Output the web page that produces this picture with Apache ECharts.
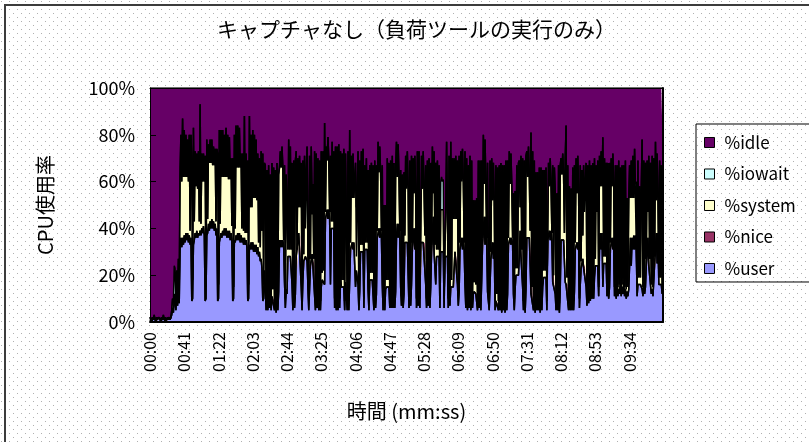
<!DOCTYPE html>
<html>
<head>
<meta charset="utf-8">
<script src="https://cdn.jsdelivr.net/npm/echarts@6/dist/echarts.min.js"></script>
<style>
html, body { margin: 0; padding: 0; background: #fff; }
#chart { width: 809px; height: 442px; }
</style>
</head>
<body>
<div id="chart"></div>
<script>
// Axis tick labels (elapsed time, one label every 41 s)
const timeTicks = ['00:00','00:41','01:22','02:03','02:44','03:25','04:06','04:47','05:28','06:09','06:50','07:31','08:12','08:53','09:34'];

// Per-second CPU breakdown (%), one row per 41 s
const user = [
1,1,0,1,1,2,1,0,1,1,1,2,1,0,1,1,2,1,1,0,1,1,1,2,1,1,3,6,4,10,9,5,12,7,18,8,34,36,32,36,33,
37,34,38,35,38,34,37,33,36,9,10,33,35,38,36,39,36,38,37,39,37,40,38,41,37,9,10,37,38,42,39,43,40,44,40,43,39,42,37,40,9,
10,34,36,38,36,39,37,40,37,40,36,39,36,39,35,38,35,9,10,35,34,37,35,38,35,38,34,37,34,36,33,36,33,35,32,9,10,33,31,34,31,
34,30,33,30,33,29,32,28,30,26,27,23,9,10,22,14,5,18,5,12,6,16,5,11,11,11,5,15,4,20,5,13,35,32,35,32,35,32,17,6,14,
12,28,28,28,28,28,16,5,19,6,12,28,28,28,38,38,38,15,5,18,26,26,28,28,26,26,5,14,24,24,29,24,24,24,5,17,6,13,5,19,5,
15,18,18,18,16,44,44,48,44,48,44,16,40,40,40,40,6,14,5,18,5,15,6,20,15,15,15,15,5,17,12,5,14,5,18,31,31,34,31,34,34,
15,22,22,16,5,13,30,30,30,30,6,31,31,31,31,14,5,18,18,18,18,18,5,15,6,12,36,36,40,36,40,36,16,5,12,5,14,15,15,15,15,
6,19,6,14,6,17,6,13,36,42,36,42,36,15,7,18,6,12,34,34,34,34,34,6,17,7,16,31,31,40,31,40,6,15,7,19,6,34,34,34,34,
34,34,16,6,14,7,18,6,15,30,30,45,30,30,16,28,28,28,28,6,30,30,30,30,6,28,28,28,28,6,17,7,15,15,15,15,15,30,30,30,16,
7,13,31,31,36,31,36,31,16,6,19,5,14,6,17,5,12,6,12,13,13,12,12,5,16,6,14,5,18,33,33,45,33,45,33,13,13,5,16,27,27,
34,27,34,5,9,9,9,5,15,5,13,4,17,5,14,4,18,5,12,33,33,36,33,36,33,12,5,14,20,20,20,20,28,39,28,28,15,5,19,4,14,
36,36,36,36,36,12,12,12,5,16,4,13,5,17,5,14,4,18,5,15,19,19,19,19,5,35,35,39,35,39,35,17,17,17,12,5,15,5,16,4,14,
35,35,35,35,35,17,16,16,16,5,13,5,14,5,16,5,13,31,31,34,31,34,6,16,23,23,27,23,23,23,15,7,18,8,14,9,17,10,16,10,19,
24,24,24,24,11,31,38,31,38,15,25,25,25,25,11,17,10,15,31,31,36,31,36,11,16,10,20,11,14,12,18,11,15,12,17,11,14,10,13,11,14,
24,36,24,36,31,37,31,37,31,11,16,16,16,16,16,14,11,17,12,15,24,24,36,24,24,16,12,14,11,18,25,25,38,25,38,16,16,16,16,12,15
];

const nice = [
0,0,0,0,0,0,0,0,0,0,0,0,0,0,0,0,0,0,0,0,0,0,0,0,0,0,0,0,0,0,0,0,0,0,0,0,0,0,0,0,0,
0,0,0,0,0,0,0,0,0,0,0,0,0,0,0,0,0,0,0,0,0,0,0,0,0,0,0,0,0,0,0,0,0,0,0,0,0,0,0,0,0,
0,0,0,0,0,0,0,0,0,0,0,0,0,0,0,0,0,0,0,0,0,0,0,0,0,0,0,0,0,0,0,0,0,0,0,0,0,0,0,0,0,
0,0,0,0,0,0,0,0,0,0,0,0,0,0,0,0,0,0,0,0,0,0,0,0,0,0,0,0,0,0,0,0,0,0,0,0,0,0,0,0,0,
0,0,0,0,0,0,0,0,0,0,0,0,0,0,0,0,0,0,0,0,0,0,0,0,0,0,0,0,0,0,0,0,0,0,0,0,0,0,0,0,0,
0,0,0,0,0,0,0,0,0,0,0,0,0,0,0,0,0,0,0,0,0,0,0,0,0,0,0,0,0,0,0,0,0,0,0,0,0,0,0,0,0,
0,0,0,0,0,0,0,0,0,0,0,0,0,0,0,0,0,0,0,0,0,0,0,0,0,0,0,0,0,0,0,0,0,0,0,0,0,0,0,0,0,
0,0,0,0,0,0,0,0,0,0,0,0,0,0,0,0,0,0,0,0,0,0,0,0,0,0,0,0,0,0,0,0,0,0,0,0,0,0,0,0,0,
0,0,0,0,0,0,0,0,0,0,0,0,0,0,0,0,0,0,0,0,0,0,0,0,0,0,0,0,0,0,0,0,0,0,0,0,0,0,0,0,0,
0,0,0,0,0,0,0,0,0,0,0,0,0,0,0,0,0,0,0,0,0,0,0,0,0,0,0,0,0,0,0,0,0,0,0,0,0,0,0,0,0,
0,0,0,0,0,0,0,0,0,0,0,0,0,0,0,0,0,0,0,0,0,0,0,0,0,0,0,0,0,0,0,0,0,0,0,0,0,0,0,0,0,
0,0,0,0,0,0,0,0,0,0,0,0,0,0,0,0,0,0,0,0,0,0,0,0,0,0,0,0,0,0,0,0,0,0,0,0,0,0,0,0,0,
0,0,0,0,0,0,0,0,0,0,0,0,0,0,0,0,0,0,0,0,0,0,0,0,0,0,0,0,0,0,0,0,0,0,0,0,0,0,0,0,0,
0,0,0,0,0,0,0,0,0,0,0,0,0,0,0,0,0,0,0,0,0,0,0,0,0,0,0,0,0,0,0,0,0,0,0,0,0,0,0,0,0,
0,0,0,0,0,0,0,0,0,0,0,0,0,0,0,0,0,0,0,0,0,0,0,0,0,0,0,0,0,0,0,0,0,0,0,0,0,0,0,0,0
];

const system = [
1,0,1,1,0,1,0,1,1,0,1,0,0,1,1,0,1,0,1,1,0,1,0,0,0,1,2,4,4,2,3,4,10,5,9,7,28,44,28,51,29,
45,28,42,27,40,26,43,6,44,60,8,50,8,35,22,33,21,35,6,54,5,32,22,31,23,62,5,41,6,34,29,35,28,34,27,32,28,32,6,34,63,
6,48,6,44,26,43,25,40,25,43,26,41,25,40,26,32,6,61,5,45,6,47,31,46,31,45,32,35,6,36,6,52,5,37,6,60,6,55,18,46,18,
48,23,47,23,45,23,40,6,40,6,46,16,63,6,46,53,4,47,4,55,4,47,4,57,3,55,4,50,4,48,4,50,31,41,31,43,31,3,50,4,49,
37,3,50,3,47,3,52,4,50,4,57,45,3,42,11,33,11,53,4,51,3,45,12,12,49,3,4,57,3,51,17,35,3,49,4,55,4,57,4,50,4,
58,3,55,4,69,3,31,21,35,21,3,55,3,37,3,33,4,61,4,57,4,61,4,53,3,57,3,59,4,55,35,4,59,4,64,3,40,19,41,19,19,
53,6,6,57,4,56,3,43,3,44,4,36,3,39,3,51,4,49,3,50,3,49,4,54,4,55,3,41,24,39,24,3,51,4,38,4,36,3,55,3,53,
4,50,4,57,4,51,4,52,41,20,40,20,3,50,4,45,4,52,3,37,23,39,23,4,52,4,55,3,39,15,40,15,4,58,4,54,4,3,37,23,39,
23,3,51,4,55,4,52,4,53,3,45,10,43,3,52,3,41,3,39,4,18,18,18,18,4,3,19,49,19,4,54,4,62,3,55,29,55,14,41,14,53,
4,58,3,42,24,43,24,3,57,4,51,4,53,4,54,4,57,4,40,4,39,4,41,4,53,4,55,4,51,3,47,14,45,14,3,55,3,4,53,3,43,
18,41,18,4,58,3,57,4,52,4,55,4,50,4,53,4,51,4,57,3,40,23,39,23,3,43,4,42,3,47,3,48,41,10,43,3,55,4,50,4,57,
37,26,39,26,3,69,3,61,4,53,4,51,4,47,4,52,4,48,4,50,3,46,3,47,4,3,33,19,35,19,3,50,3,49,44,4,40,4,51,4,53,
35,28,37,28,3,53,68,3,51,4,45,4,43,4,50,4,54,3,39,21,40,21,4,51,3,42,10,44,24,24,53,4,49,4,55,4,50,4,52,4,51,
3,43,23,45,4,40,20,42,20,64,3,45,3,43,4,51,4,53,3,39,22,41,22,4,51,4,47,4,55,4,48,4,52,4,50,4,55,4,40,4,38,
43,17,45,17,40,16,43,16,22,4,53,3,42,3,41,64,4,52,4,53,3,45,11,47,3,52,4,57,4,52,3,52,14,47,14,3,53,3,51,4,55
];

const iowait = [
0,0,0,0,0,0,0,0,0,0,0,0,0,0,0,0,0,0,0,0,0,0,0,0,0,0,0,0,0,12,11,0,0,0,0,0,4,0,0,0,0,
0,0,0,0,0,0,0,0,0,0,0,0,0,0,0,0,0,0,0,0,0,0,0,0,0,0,0,0,0,0,0,0,0,0,0,0,0,0,0,0,0,
0,0,0,0,0,0,0,0,0,0,0,0,0,0,0,0,0,0,0,0,0,0,0,0,0,0,0,0,0,0,0,0,0,0,0,0,0,0,0,0,0,
0,0,0,0,0,0,0,0,0,0,0,0,0,0,0,0,0,0,0,0,0,0,0,0,0,0,0,0,0,0,0,0,0,0,0,0,0,0,0,0,0,
0,0,0,0,0,0,0,0,0,0,0,0,0,0,0,0,0,0,0,0,0,0,18,22,0,0,0,0,0,0,9,0,0,0,0,0,0,0,0,0,0,
0,0,0,0,0,0,0,0,0,0,0,0,0,0,0,0,0,0,0,0,0,0,0,0,0,0,0,0,0,0,0,0,0,0,0,0,0,0,0,0,0,
0,21,22,0,0,0,0,0,0,0,0,0,0,0,0,0,0,0,0,0,0,0,0,0,0,0,0,0,0,0,0,0,0,0,0,0,0,0,0,0,0,
0,0,0,0,0,0,0,0,0,0,0,0,0,0,0,0,0,0,0,0,9,0,0,0,0,0,0,0,0,0,0,0,0,0,0,0,0,0,0,0,0,
0,0,0,0,0,0,0,0,0,0,0,0,0,0,0,0,0,0,0,0,12,14,12,13,0,0,0,0,0,0,0,0,0,0,0,6,0,0,0,0,0,
0,0,0,0,4,0,0,0,0,0,0,0,0,0,0,0,0,0,0,0,0,0,0,0,0,0,0,0,0,0,0,0,0,0,0,0,0,0,0,0,0,
0,0,0,0,0,0,0,0,0,0,0,0,0,0,0,0,0,0,0,0,0,0,0,0,0,0,0,0,0,0,0,0,0,0,0,0,0,0,0,0,0,
0,0,0,0,0,0,0,0,0,0,0,0,0,0,0,0,0,0,0,0,0,0,0,0,0,0,0,0,0,0,0,0,0,0,0,0,0,0,0,0,0,
0,0,0,0,0,0,0,0,0,0,0,0,0,0,0,0,0,0,0,0,0,0,0,0,0,0,0,0,5,5,0,0,0,0,0,0,0,0,0,0,0,
0,0,0,0,0,0,0,0,0,0,0,0,0,0,0,0,0,0,0,0,0,0,0,0,0,0,0,0,0,0,0,0,0,0,0,0,0,0,0,0,0,
0,0,0,0,0,0,0,6,7,0,0,0,0,0,0,0,0,0,0,0,0,0,0,0,0,0,0,0,0,0,0,0,0,0,0,0,0,0,0,0,0
];

const idle = [
98,99,99,98,99,97,99,99,98,99,98,98,99,99,98,99,97,99,98,99,99,98,99,98,99,98,95,90,92,76,77,91,78,88,73,85,34,20,40,13,38,
18,38,20,38,22,40,20,61,20,31,82,17,57,27,42,28,43,27,57,7,58,28,40,28,40,29,85,22,56,24,32,22,32,22,33,25,33,26,57,26,28,
84,18,58,18,38,18,38,20,38,17,38,20,39,21,39,30,59,30,85,20,60,16,34,16,34,17,34,28,60,28,61,12,62,28,62,31,84,12,51,20,51,
18,47,20,47,22,48,28,66,30,68,27,61,28,84,32,33,91,35,91,33,90,37,91,32,86,34,91,35,92,32,91,37,34,27,34,25,34,65,33,90,37,
51,69,22,69,25,69,32,91,31,90,31,27,69,30,51,29,51,32,91,31,71,29,42,38,25,71,91,29,73,25,45,41,73,27,91,28,90,30,91,31,91,
27,79,27,78,15,53,25,31,21,31,53,29,57,23,57,27,90,25,91,25,91,24,90,27,82,28,82,26,91,28,53,91,27,91,18,66,29,47,28,47,47,
32,51,50,27,91,31,67,27,67,26,90,33,66,30,66,35,91,33,79,32,79,33,91,31,90,33,61,23,36,25,36,61,33,91,50,91,50,82,30,82,32,
90,31,90,29,90,32,90,35,23,38,24,38,61,35,89,37,90,36,63,29,34,27,43,90,31,89,29,66,30,45,29,45,90,27,89,27,90,63,29,43,27,
43,63,33,90,31,89,30,90,32,67,25,45,27,67,32,69,31,69,33,90,40,38,40,39,90,69,53,23,53,90,29,89,23,82,30,50,30,56,29,56,31,
89,29,66,27,36,26,40,66,27,90,30,91,33,90,29,91,31,90,48,83,48,84,47,91,31,90,31,91,31,64,20,41,22,41,64,32,84,91,31,70,30,
48,32,48,91,33,88,34,91,33,91,32,92,33,91,33,92,31,91,31,64,27,41,28,41,64,45,91,44,77,33,77,32,31,51,29,69,30,91,31,92,29,
27,38,25,38,61,19,85,27,91,31,92,36,91,36,91,34,92,34,91,35,78,35,78,34,91,62,32,42,30,42,62,33,80,34,44,91,45,91,33,92,33,
30,37,28,37,62,30,16,81,33,91,42,91,43,91,34,91,33,66,30,45,29,45,90,33,74,35,63,33,48,48,32,89,33,88,31,87,33,86,32,86,30,
73,33,53,31,85,29,42,27,42,21,72,30,72,32,85,32,86,32,66,30,42,28,42,85,33,86,33,85,31,84,34,85,33,84,33,85,31,86,47,85,48,
33,47,31,47,29,47,26,41,40,85,31,81,42,81,43,22,85,31,84,32,73,31,53,29,73,32,84,29,85,30,72,23,48,28,48,81,31,81,33,84,30
];

const FONT = "'Noto Sans CJK JP', 'Noto Sans', sans-serif";

// Seconds since start, one category per sample
const seconds = user.map(function (_, t) { return t; });

// Light dotted fill for the chart background
const dotTile = document.createElement('canvas');
dotTile.width = 8;
dotTile.height = 8;
const dctx = dotTile.getContext('2d');
dctx.fillStyle = '#b0b0b0';
dctx.fillRect(1, 1, 1, 1);
dctx.fillRect(5, 5, 1, 1);

const layers = [
  { name: '%user',   values: user,   color: '#9999ff' },
  { name: '%nice',   values: nice,   color: '#993366' },
  { name: '%system', values: system, color: '#ffffcc' },
  { name: '%iowait', values: iowait, color: '#ccffff' },
  { name: '%idle',   values: idle,   color: '#660066' }
];

const chart = echarts.init(document.getElementById('chart'), null, { renderer: 'canvas' });

chart.setOption({
  animation: false,
  backgroundColor: '#ffffff',
  textStyle: { fontFamily: FONT, color: '#000' },
  graphic: [
    {
      type: 'rect', z: -100, silent: true,
      shape: { x: 0, y: 0, width: 809, height: 442 },
      style: { fill: { image: dotTile, repeat: 'repeat' } }
    },
    {
      type: 'rect', z: 100, silent: true,
      shape: { x: 5, y: 5, width: 900, height: 600 },
      style: { fill: 'none', stroke: '#3c3c3c', lineWidth: 2 }
    }
  ],
  title: {
    text: 'キャプチャなし（負荷ツールの実行のみ）',
    left: 217,
    top: 19,
    padding: 0,
    textStyle: { fontFamily: FONT, fontSize: 21, fontWeight: 'normal', color: '#000' }
  },
  legend: {
    orient: 'vertical',
    left: 696,
    top: 124,
    padding: [10, 40, 5, 8],
    data: ['%idle', '%iowait', '%system', '%nice', '%user'],
    icon: 'rect',
    itemWidth: 10,
    itemHeight: 10,
    itemGap: 14.5,
    borderColor: '#000',
    borderWidth: 1,
    itemStyle: { borderColor: '#000', borderWidth: 1 },
    textStyle: { fontFamily: FONT, fontSize: 17, lineHeight: 16, color: '#000', padding: [0, 0, 0, 5] }
  },
  grid: { left: 150, top: 88, right: 146, bottom: 120, containLabel: false },
  xAxis: [
    {
      type: 'category',
      data: seconds,
      boundaryGap: false,
      z: 10,
      axisLine: { show: true, onZero: false, lineStyle: { color: '#000', width: 2 } },
      axisTick: { show: false },
      splitLine: { show: false },
      axisLabel: {
        interval: 40,
        rotate: 90,
        margin: 10,
        padding: [10, 0, 0, 0],
        fontSize: 16,
        color: '#000',
        fontFamily: FONT,
        formatter: function (value, index) {
          return timeTicks[index / 41] || '';
        }
      },
      name: '時間 (mm:ss)',
      nameLocation: 'middle',
      nameGap: 79,
      nameTextStyle: { fontFamily: FONT, fontSize: 20, color: '#000' }
    },
    {
      type: 'category', data: seconds, boundaryGap: false, position: 'top', z: 10,
      axisLine: { show: true, onZero: false, lineStyle: { color: '#000', width: 1 } },
      axisTick: { show: false }, axisLabel: { show: false }, splitLine: { show: false }
    }
  ],
  yAxis: [
    {
      type: 'value',
      min: 0,
      max: 100,
      interval: 20,
      z: 10,
      axisLine: { show: true, lineStyle: { color: '#000', width: 1 } },
      axisTick: { show: true, inside: true, length: 6, lineStyle: { color: '#000' } },
      splitLine: { show: false },
      axisLabel: { formatter: '{value}%', fontSize: 18, margin: 15, color: '#000', fontFamily: FONT },
      name: 'CPU使用率',
      nameLocation: 'middle',
      nameRotate: 90,
      nameGap: 95,
      nameTextStyle: { fontFamily: FONT, fontSize: 20, color: '#000' }
    },
    {
      type: 'value', position: 'right', min: 0, max: 100, z: 10,
      axisLine: { show: true, lineStyle: { color: '#000', width: 2 } },
      axisTick: { show: false }, axisLabel: { show: false }, splitLine: { show: false }
    }
  ],
  series: layers.map(function (layer) {
    return {
      name: layer.name,
      type: 'line',
      stack: 'cpu',
      stackStrategy: 'all',
      data: layer.values,
      symbol: 'none',
      showSymbol: false,
      silent: true,
      lineStyle: { color: '#000', width: 1.5 },
      itemStyle: { color: layer.color },
      areaStyle: { color: layer.color, opacity: 1 },
      emphasis: { disabled: true }
    };
  })
});
</script>
</body>
</html>
